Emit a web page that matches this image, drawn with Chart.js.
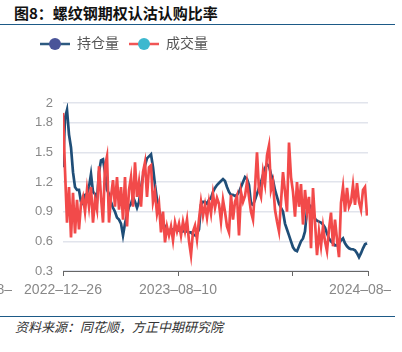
<!DOCTYPE html>
<html lang="zh">
<head>
<meta charset="UTF-8">
<title>螺纹钢期权认沽认购比率</title>
<script src="https://cdn.jsdelivr.net/npm/chart.js"></script>
<style>
  body { margin: 0; background: #fff; width: 402px; height: 352px; position: relative; overflow: hidden; }
  .title { position: absolute; left: 14px; top: 4px; font: bold 15px/18px "Noto Sans CJK SC", sans-serif; color: #111; }
  .rule { position: absolute; left: 0; width: 395px; height: 1px; background: #1d5a87; }
  #wrap { position: absolute; left: 0; top: 25px; width: 391px; height: 290px; }
  .source { position: absolute; left: 15px; top: 319px; font: italic 13px/16px "Noto Sans CJK SC", sans-serif; color: #333; }
</style>
</head>
<body>
<div class="title">图8：螺纹钢期权认沽认购比率</div>
<div class="rule" style="top:24px"></div>
<div id="wrap"><canvas id="ratioChart" width="391" height="290"></canvas></div>
<div class="rule" style="top:316px"></div>
<div class="source">资料来源：同花顺，方正中期研究院</div>
<script>
// 持仓量 / 成交量 认沽认购比率, one value per sample from 2022-12-26 onward
const holdRatio = [
  1.35, 1.85, 1.93, 1.68, 1.55, 1.30, 1.15, 1.12, 1.12, 1.00,
  0.98, 1.07, 1.08, 1.15, 1.28, 1.10, 1.08, 1.02, 1.30, 1.42,
  1.43, 1.30, 1.12, 1.08, 1.00, 0.94, 0.90, 0.84, 0.82, 0.78,
  0.66, 0.78, 0.87, 0.95, 0.98, 1.05, 1.00, 0.94, 1.00, 1.14,
  1.26, 1.37, 1.44, 1.46, 1.48, 1.35, 1.17, 1.02, 0.92, 0.84,
  0.79, 0.75, 0.72, 0.71, 0.72, 0.72, 0.73, 0.72, 0.71, 0.72,
  0.70, 0.71, 0.70, 0.69, 0.69, 0.67, 0.66, 0.68, 0.72, 0.97,
  1.00, 1.00, 0.98, 1.02, 1.04, 1.10, 1.14, 1.17, 1.19, 1.21,
  1.23, 1.21, 1.15, 1.10, 1.07, 1.07, 1.06, 1.07, 1.10, 1.15,
  1.20, 1.25, 1.23, 1.17, 0.98, 0.97, 1.02, 1.08, 1.14, 1.20,
  1.27, 1.34, 1.38, 1.36, 1.28, 1.22, 1.12, 1.05, 0.98, 0.94,
  0.90, 0.78, 0.72, 0.66, 0.60, 0.54, 0.51, 0.50, 0.55, 0.60,
  0.63, 0.70, 0.92, 0.97, 0.95, 0.88, 0.83, 0.81, 0.80, 0.79,
  0.77, 0.74, 0.68, 0.63, 0.60, 0.58, 0.56, 0.56, 0.58, 0.61,
  0.63, 0.58, 0.55, 0.53, 0.52, 0.52, 0.51, 0.48, 0.44, 0.48,
  0.53, 0.57, 0.58
];
const volumeRatio = [
  1.90, 1.32, 0.79, 1.15, 0.64, 1.09, 0.68, 1.02, 0.72, 0.98,
  1.05, 0.90, 1.12, 0.95, 1.15, 0.79, 1.02, 0.92, 1.36, 1.05,
  0.79, 1.36, 1.46, 0.79, 1.05, 1.22, 0.95, 1.25, 0.92, 1.15,
  0.82, 1.25, 0.75, 1.12, 1.25, 0.95, 1.40, 1.05, 1.20, 0.95,
  1.30, 1.40, 1.05, 1.35, 1.37, 1.00, 1.10, 0.88, 0.98, 0.69,
  0.90, 0.59, 0.75, 0.66, 0.75, 0.61, 0.79, 0.70, 0.78, 0.66,
  0.80, 0.70, 0.82, 0.60, 0.46, 0.70, 0.76, 0.62, 0.82, 1.00,
  0.86, 0.97, 0.84, 1.00, 0.88, 1.08, 0.94, 1.04, 0.98, 0.80,
  1.02, 0.90, 0.75, 0.69, 1.07, 0.82, 1.00, 1.06, 0.66, 1.10,
  1.00, 1.06, 1.20, 1.05, 0.90, 0.82, 1.14, 1.50, 1.12, 1.05,
  1.30, 1.18, 1.47, 1.57, 1.12, 1.20, 0.92, 0.80, 0.70, 1.00,
  1.30, 1.10, 0.90, 1.60, 1.25, 1.10, 0.85, 1.20, 0.95, 1.18,
  0.77, 1.12, 0.90, 1.05, 0.53, 1.14, 0.80, 0.46, 0.70, 0.55,
  0.75, 0.60, 0.50, 0.72, 0.89, 0.55, 0.82, 0.62, 0.44, 0.99,
  1.15, 0.90, 1.14, 0.95, 1.00, 1.17, 0.97, 1.19, 1.00, 0.92,
  1.12, 1.15, 0.86
];
const yTicks = [0.3, 0.6, 0.9, 1.2, 1.5, 1.8, 2];
const xTickPos = [-41, 0, 57.5, 114.5, 152.5];
const xTickLabels = ['2022–08–', '2022–12–26', '2023–08–10', '', '2024–08–09'];

Chart.defaults.font.family = '"Liberation Sans", "Noto Sans CJK SC", sans-serif';

// legend marker: short line with a dot on it
function marker(lineColor, dotColor) {
  const c = document.createElement('canvas');
  c.width = 30; c.height = 14;
  const g = c.getContext('2d');
  g.strokeStyle = lineColor; g.lineWidth = 2.5;
  g.beginPath(); g.moveTo(0, 7); g.lineTo(30, 7); g.stroke();
  g.fillStyle = dotColor;
  g.beginPath(); g.arc(15, 7, 6, 0, Math.PI * 2); g.fill();
  return c;
}

const legendGap = {
  id: 'legendGap',
  beforeInit(chart) {
    const fit = chart.legend.fit;
    chart.legend.fit = function () {
      fit.call(this);
      this.height += 42;
    };
  }
};

const ctx = document.getElementById('ratioChart').getContext('2d');
new Chart(ctx, {
  type: 'line',
  data: {
    datasets: [{
      label: '持仓量',
      data: holdRatio.map((v, i) => ({ x: i, y: v })),
      borderColor: '#1f4e78',
      borderWidth: 2.7,
      pointRadius: 0,
      pointStyle: marker('#2d5a80', '#4a5499'),
      tension: 0,
      order: 1
    }, {
      label: '成交量',
      data: volumeRatio.map((v, i) => ({ x: i, y: v })),
      borderColor: '#f24a4a',
      borderWidth: 2.7,
      pointRadius: 0,
      pointStyle: marker('#f05555', '#3db8cf'),
      tension: 0,
      order: 0
    }]
  },
  options: {
    responsive: false,
    animation: false,
    layout: { padding: { top: 2, left: 30, right: 23, bottom: 0 } },
    plugins: {
      tooltip: { enabled: false },
      legend: {
        align: 'start',
        labels: {
          usePointStyle: true,
          pointStyleWidth: 30,
          padding: 10,
          color: '#555',
          font: { size: 14 },
          sort: (a, b) => a.datasetIndex - b.datasetIndex
        }
      }
    },
    scales: {
      x: {
        type: 'linear',
        min: 0,
        max: 152.5,
        afterBuildTicks: s => { s.ticks = xTickPos.map(v => ({ value: v })); },
        afterFit: s => { s.height = 44; s.paddingLeft = 0; s.paddingRight = 0; },
        grid: { drawOnChartArea: false, drawTicks: true, tickLength: 5, color: '#666' },
        border: { display: true, color: '#666', width: 1 },
        ticks: {
          autoSkip: false,
          maxRotation: 0,
          padding: 6,
          color: '#888',
          font: { size: 14 },
          callback: (v, i) => xTickLabels[i]
        }
      },
      y: {
        min: 0.3,
        max: 2,
        afterBuildTicks: s => { s.ticks = yTicks.map(v => ({ value: v })); },
        afterFit: s => { s.width = 33; },
        grid: { drawTicks: false, color: '#e1e4ec', lineWidth: 1.5 },
        border: { display: false },
        ticks: {
          padding: 10,
          color: '#888',
          font: { size: 13 },
          callback: v => String(v)
        }
      }
    }
  },
  plugins: [legendGap]
});
</script>
</body>
</html>
